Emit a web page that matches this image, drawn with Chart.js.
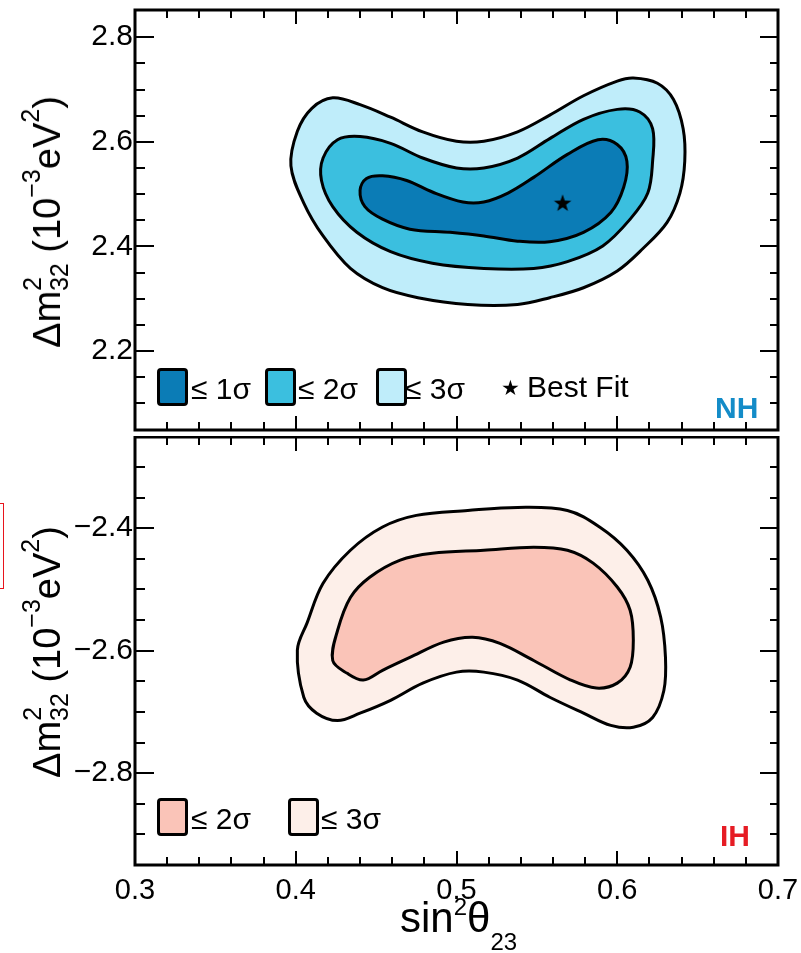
<!DOCTYPE html>
<html><head><meta charset="utf-8">
<script src="https://cdn.jsdelivr.net/npm/chart.js@4.4.0/dist/chart.umd.min.js"></script>
<style>
html,body{margin:0;padding:0;background:#fff;}
#wrap{position:relative;width:801px;height:953px;overflow:hidden;font-family:'Liberation Sans',Arial,Helvetica,sans-serif;color:#000;}
canvas{position:absolute;left:0;}
.t{position:absolute;white-space:nowrap;line-height:1;}
.box{position:absolute;border:3px solid #000;border-radius:4px;box-sizing:border-box;}
.sc{font-size:25px;position:relative;}
</style></head><body>
<div id="wrap">
<canvas id="cTop" width="801" height="440" style="top:0"></canvas>
<canvas id="cBot" width="801" height="517" style="top:436px"></canvas>

<div class="t" style="left:47px;top:222px;font-size:38px;transform:translate(-50%,-50%) rotate(-90deg);">Δm<span class="sc" style="top:-19px">2</span><span class="sc" style="top:8px;margin-left:-14px">32</span> (10<span class="sc" style="top:-20px">−3</span>eV<span class="sc" style="top:-21px">2</span>)</div>
<div class="t" style="left:47px;top:652px;font-size:38px;transform:translate(-50%,-50%) rotate(-90deg);">Δm<span class="sc" style="top:-19px">2</span><span class="sc" style="top:8px;margin-left:-14px">32</span> (10<span class="sc" style="top:-20px">−3</span>eV<span class="sc" style="top:-21px">2</span>)</div>
<div class="t" style="left:400px;top:897px;font-size:42px;">sin<span class="sc" style="font-size:24px;top:-17px">2</span>θ<span class="sc" style="font-size:24px;top:18px">23</span></div>

<div id="legTop"></div>
<div id="legBot"></div>
<div class="t" style="left:715px;top:393px;font-size:30px;font-weight:bold;color:#148cc8;">NH</div>
<div class="t" style="left:720px;top:821px;font-size:30px;font-weight:bold;color:#e61c24;">IH</div>
<div style="position:absolute;left:-50px;top:503px;width:52px;height:84px;border:1.5px solid #e8141c;"></div>
</div>
<script>
const FONT = "'Liberation Sans', Arial, Helvetica, sans-serif";
// colours
const cNH1 = '#0b7cb6', cNH2 = '#3bbfdf', cNH3 = '#bfedfa';
const cIH2 = '#fac4b8', cIH3 = '#fdefe9';

// x axis ticks (sin^2 theta23)
const xMajor = [0.3, 0.4, 0.5, 0.6, 0.7];
const xLabels = ['0.3', '0.4', '0.5', '0.6', '0.7'];
const xMinor = [0.32,0.34,0.36,0.38,0.42,0.44,0.46,0.48,0.52,0.54,0.56,0.58,0.62,0.64,0.66,0.68];

// NH panel ticks
const yTopMajor = [2.2, 2.4, 2.6, 2.8];
const yTopLabels = ['2.2', '2.4', '2.6', '2.8'];
const yTopMinor = [2.1,2.15,2.25,2.3,2.35,2.45,2.5,2.55,2.65,2.7,2.75];
// IH panel ticks
const yBotMajor = [-2.8, -2.6, -2.4];
const yBotLabels = ['\u22122.8', '\u22122.6', '\u22122.4'];
const yBotMinor = [-2.9,-2.85,-2.75,-2.7,-2.65,-2.55,-2.5,-2.45,-2.35,-2.3];

// NH contours [sin2theta23, dm2_32]
const nh3 = [[0.423,2.684],[0.440,2.671],[0.459,2.647],[0.479,2.619],[0.500,2.601],[0.517,2.601],[0.538,2.619],[0.558,2.651],[0.579,2.688],[0.600,2.716],[0.610,2.722],[0.625,2.712],[0.635,2.681],[0.641,2.625],[0.642,2.563],[0.639,2.502],[0.631,2.446],[0.616,2.396],[0.600,2.353],[0.579,2.321],[0.558,2.302],[0.538,2.289],[0.507,2.289],[0.476,2.302],[0.454,2.321],[0.434,2.358],[0.417,2.420],[0.405,2.483],[0.397,2.554],[0.401,2.620],[0.410,2.664]];
const nh2 = [[0.417,2.569],[0.426,2.604],[0.440,2.610],[0.459,2.597],[0.479,2.569],[0.500,2.550],[0.517,2.550],[0.538,2.569],[0.558,2.606],[0.579,2.643],[0.600,2.662],[0.614,2.657],[0.622,2.625],[0.622,2.563],[0.619,2.502],[0.608,2.452],[0.591,2.401],[0.569,2.371],[0.548,2.358],[0.517,2.358],[0.485,2.368],[0.459,2.390],[0.438,2.427],[0.423,2.476],[0.416,2.526]];
const nh1 = [[0.440,2.507],[0.444,2.530],[0.454,2.535],[0.469,2.526],[0.485,2.504],[0.504,2.485],[0.517,2.485],[0.532,2.502],[0.548,2.532],[0.569,2.576],[0.588,2.604],[0.600,2.595],[0.606,2.563],[0.604,2.513],[0.596,2.465],[0.579,2.427],[0.558,2.409],[0.538,2.410],[0.517,2.420],[0.496,2.427],[0.471,2.433],[0.454,2.452],[0.443,2.476]];
const bestFit = [[0.566, 2.483]];

// IH contours
const ih3 = [[0.401,-2.599],[0.407,-2.555],[0.417,-2.490],[0.434,-2.436],[0.454,-2.398],[0.475,-2.379],[0.507,-2.371],[0.538,-2.366],[0.569,-2.371],[0.589,-2.398],[0.606,-2.436],[0.619,-2.485],[0.627,-2.545],[0.630,-2.611],[0.629,-2.665],[0.622,-2.709],[0.610,-2.725],[0.596,-2.722],[0.579,-2.702],[0.558,-2.676],[0.538,-2.648],[0.517,-2.635],[0.500,-2.635],[0.479,-2.653],[0.459,-2.681],[0.440,-2.702],[0.426,-2.714],[0.413,-2.702],[0.405,-2.676]];
const ih2 = [[0.423,-2.616],[0.426,-2.567],[0.434,-2.513],[0.446,-2.480],[0.465,-2.452],[0.485,-2.441],[0.517,-2.436],[0.548,-2.431],[0.569,-2.436],[0.585,-2.457],[0.600,-2.496],[0.608,-2.534],[0.610,-2.583],[0.608,-2.627],[0.600,-2.653],[0.587,-2.661],[0.571,-2.648],[0.548,-2.616],[0.527,-2.588],[0.510,-2.578],[0.492,-2.586],[0.471,-2.611],[0.454,-2.632],[0.442,-2.648],[0.432,-2.637]];

// star point style
const star = document.createElement('canvas');
star.width = 20; star.height = 20;
(function(){const g = star.getContext('2d'); g.fillStyle='#000'; g.beginPath();
 for (let i=0;i<10;i++){const r = i%2? 3.7:9.2; const a = -Math.PI/2 + i*Math.PI/5; g.lineTo(10+r*Math.cos(a), 10.5+r*Math.sin(a));}
 g.closePath(); g.fill();})();

// closed loop: wrap one point on each side so every visible vertex has real neighbours
const loopXY = pts => [pts[pts.length-1], ...pts, pts[0], pts[1]].map(p => ({x:p[0], y:p[1]}));
const contour = (pts, col, order) => {
  const n = pts.length;
  return {data: loopXY(pts), backgroundColor: col, borderColor:'#000', borderWidth:3, fill:'shape',
    tension:0.35, pointRadius:0, order,
    segment:{borderColor: c => (c.p0DataIndex === 0 || c.p0DataIndex === n + 1) ? 'rgba(0,0,0,0)' : undefined}};
};

const frameTicks = {
  id:'frameTicks',
  afterDatasetsDraw(chart, args, opts){
    const {ctx, chartArea:a, scales} = chart;
    const xs = scales.x, ys = scales.y;
    ctx.save();
    ctx.strokeStyle='#000'; ctx.lineWidth=2;
    ctx.beginPath();
    const xt = (v,len)=>{const p=Math.round(xs.getPixelForValue(v)); ctx.moveTo(p,a.top); ctx.lineTo(p,a.top+len); ctx.moveTo(p,a.bottom); ctx.lineTo(p,a.bottom-len);};
    xMajor.forEach(v=>xt(v,14)); xMinor.forEach(v=>xt(v,8));
    const yt = (v,lenL,lenR)=>{const p=Math.round(ys.getPixelForValue(v)); ctx.moveTo(a.left,p); ctx.lineTo(a.left+lenL,p); ctx.moveTo(a.right,p); ctx.lineTo(a.right-lenR,p);};
    opts.yMajor.forEach(v=>yt(v,19,18)); opts.yMinor.forEach(v=>yt(v,10,8));
    ctx.stroke();
    ctx.lineWidth=3; ctx.strokeRect(a.left,a.top,a.right-a.left,a.bottom-a.top);
    ctx.restore();
  }
};

function makeChart(id, datasets, yMin, yMax, yMajor, yLabels, yMinor, showX, xAxisH, padTop){
  return new Chart(document.getElementById(id), {
    type:'line',
    data:{datasets},
    options:{
      responsive:false, animation:false, events:[],
      layout:{padding:{top:padTop,left:0,right:23,bottom:0}},
      plugins:{legend:{display:false}, tooltip:{enabled:false}, frameTicks:{yMajor, yMinor}},
      scales:{
        x:{type:'linear', min:0.3, max:0.7,
           grid:{display:false, drawTicks:false}, border:{display:false},
           ticks:{display:showX, autoSkip:false, maxRotation:0, padding:9, color:'#000', font:{size:29, family:FONT}, callback:(v,i)=>xLabels[i]},
           afterBuildTicks:s=>{s.ticks = xMajor.map(v=>({value:v}));},
           afterFit:s=>{s.height = xAxisH; s.paddingLeft=0; s.paddingRight=0;}},
        y:{type:'linear', min:yMin, max:yMax,
           grid:{display:false, drawTicks:false}, border:{display:false},
           ticks:{autoSkip:false, padding:2, color:'#000', font:{size:30, family:FONT}, callback:(v,i)=>yLabels[i]},
           afterBuildTicks:s=>{s.ticks = yMajor.map(v=>({value:v}));},
           afterFit:s=>{s.width = 135; s.paddingTop=0; s.paddingBottom=0;}}
      }
    },
    plugins:[frameTicks]
  });
}

makeChart('cTop', [
  {data: bestFit.map(p=>({x:p[0],y:p[1]})), showLine:false, pointStyle: star, pointRadius: 9, order:-1},
  contour(nh1, cNH1, 0), contour(nh2, cNH2, 1), contour(nh3, cNH3, 2)
], 2.049, 2.852, yTopMajor, yTopLabels, yTopMinor, false, 4, 5);

makeChart('cBot', [
  contour(ih2, cIH2, 1), contour(ih3, cIH3, 2)
], -2.950, -2.251, yBotMajor, yBotLabels, yBotMinor, true, 88, 1);

// legends (HTML text)
function legend(el, items){
  let h='';
  items.forEach(it=>{
    if (it.box) h += `<div class="box" style="left:${it.x}px;top:${it.y}px;width:31px;height:38px;background:${it.box}"></div>`;
    h += `<div class="t" style="left:${it.tx}px;top:${it.ty}px;font-size:${it.fs||30}px;">${it.text}</div>`;
  });
  el.innerHTML = h;
}
legend(document.getElementById('legTop'), [
  {box:cNH1, x:157, y:368, tx:191, ty:374, text:'≤ 1σ'},
  {box:cNH2, x:265, y:368, tx:298, ty:374, text:'≤ 2σ'},
  {box:cNH3, x:376, y:368, tx:405, ty:374, text:'≤ 3σ'},
  {tx:501, ty:377, fs:21, text:'★'},
  {tx:527, ty:372, text:'Best Fit'}
]);
legend(document.getElementById('legBot'), [
  {box:cIH2, x:157, y:798, tx:191, ty:804, text:'≤ 2σ'},
  {box:cIH3, x:288, y:798, tx:321, ty:804, text:'≤ 3σ'}
]);
</script>
</body></html>
